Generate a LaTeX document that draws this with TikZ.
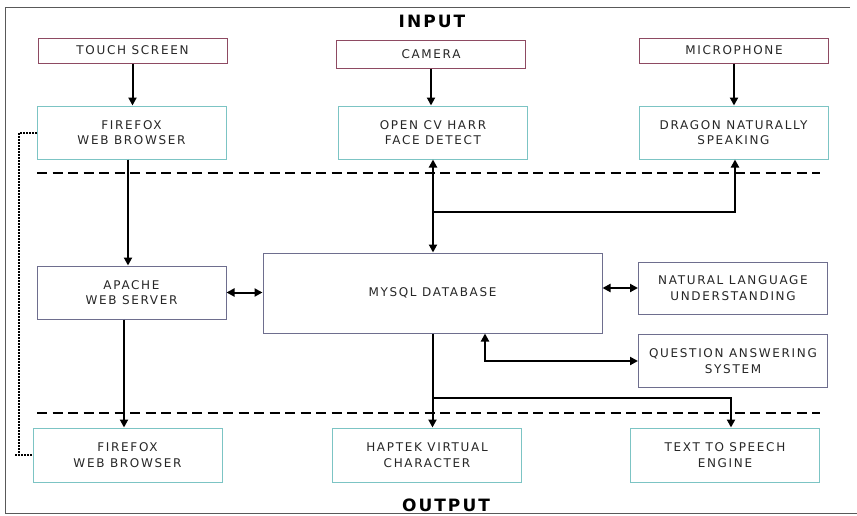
\documentclass[tikz,border=0pt]{standalone}
\usepackage{fontspec}
\usetikzlibrary{arrows.meta}
\newfontfamily\boxfont{DejaVu Sans}[LetterSpace=14]
\newfontfamily\headfont{DejaVu Sans}[LetterSpace=12]

\definecolor{inbox}{HTML}{8E4A62}
\definecolor{tealbox}{HTML}{7CC4C4}
\definecolor{midbox}{HTML}{6E6E8E}

\begin{document}
\begin{tikzpicture}[x=1pt, y=-1pt,
  blk/.style={draw, line width=1pt, text=black!85, align=center,
    font=\boxfont\fontsize{12}{15.5}\selectfont, inner sep=0pt},
  inblk/.style={blk, draw=inbox, minimum width=189pt, minimum height=25pt},
  swblk/.style={blk, draw=tealbox, minimum width=189pt, minimum height=53pt},
  srvblk/.style={blk, draw=midbox, minimum width=189pt, minimum height=53pt},
  arr/.style={line width=2pt, -{Triangle[length=8pt,width=8pt]}},
  dbl/.style={line width=2pt, {Triangle[length=8pt,width=8pt]}-{Triangle[length=8pt,width=8pt]}},
  sep/.style={line width=2.6pt, dash pattern=on 10pt off 5.5pt},
  dotline/.style={line width=2pt, densely dotted},
  head/.style={font=\headfont\bfseries\fontsize{17}{20}\selectfont}]

\useasboundingbox (0,0) rectangle (857,515);

% frame
\draw[black!65, line width=0.8pt] (850,7) -- (5,7) -- (5,513) -- (857,513);

\node[head] (input) at (432,21) {INPUT};
\node[head] (output) at (446,505) {OUTPUT};

% input devices
\node[inblk] (touch) at (132.5,50.5) {TOUCH SCREEN};
\node[inblk, minimum height=28pt] (camera) at (431,54) {CAMERA};
\node[inblk] (mic) at (734,50.5) {MICROPHONE};

% input software
\node[swblk] (ffin) at (131.5,132.5) {FIREFOX\\WEB BROWSER};
\node[swblk] (opencv) at (433,132.5) {OPEN CV HARR\\FACE DETECT};
\node[swblk] (dragon) at (733.5,132.5) {DRAGON NATURALLY\\SPEAKING};

% server side
\node[srvblk] (apache) at (131.5,292.5) {APACHE\\WEB SERVER};
\node[srvblk, minimum width=339pt, minimum height=80pt] (mysql) at (432.5,293) {MYSQL DATABASE};
\node[srvblk, minimum height=52pt] (nlu) at (733,288) {NATURAL LANGUAGE\\UNDERSTANDING};
\node[srvblk] (qas) at (733,361) {QUESTION ANSWERING\\SYSTEM};

% output
\node[swblk, minimum height=54pt] (ffout) at (127.5,455) {FIREFOX\\WEB BROWSER};
\node[swblk, minimum height=54pt] (haptek) at (427,455) {HAPTEK VIRTUAL\\CHARACTER};
\node[swblk, minimum height=54pt] (tts) at (725,455) {TEXT TO SPEECH\\ENGINE};

% separators
\coordinate (sepinl) at (37,173);
\coordinate (sepinr) at (820,173);
\coordinate (sepoutl) at (37,413);
\coordinate (sepoutr) at (820,413);
\draw[sep] (sepinl) -- (sepinr);
\draw[sep] (sepoutl) -- (sepoutr);

% input arrows
\draw[arr] (touch.south) -- (touch.south |- ffin.north);
\draw[arr] (camera.south) -- (camera.south |- opencv.north);
\draw[arr] (mic.south) -- (mic.south |- dragon.north);

\draw[arr] ([xshift=-3.5pt]ffin.south) -- ([xshift=-3.5pt]ffin.south |- apache.north);
\draw[dbl] (opencv.south) -- (opencv.south |- mysql.north);
\coordinate (jin) at (433,212);
\draw[arr] (jin) -| ([xshift=1.5pt]dragon.south);

% server arrows
\draw[dbl] (apache.east) -- (apache.east -| mysql.west);
\draw[dbl] (mysql.east |- nlu.west) -- (nlu.west);
\draw[dbl] ([xshift=52.5pt]mysql.south) |- (qas.west);

% output arrows
\draw[arr] ([xshift=-3.5pt]ffout.north |- apache.south) -- ([xshift=-3.5pt]ffout.north);
\draw[arr] (mysql.south) -- (mysql.south |- haptek.north);
\coordinate (jout) at (432.5,398);
\draw[arr] (jout) -| ([xshift=6pt]tts.north);

% browser link
\coordinate (tick) at (15,455);
\draw[dotline] (ffin.west) -| (19,455) -- (ffout.west);
\draw[dotline] (tick) -- (19,455);

\end{tikzpicture}
\end{document}
